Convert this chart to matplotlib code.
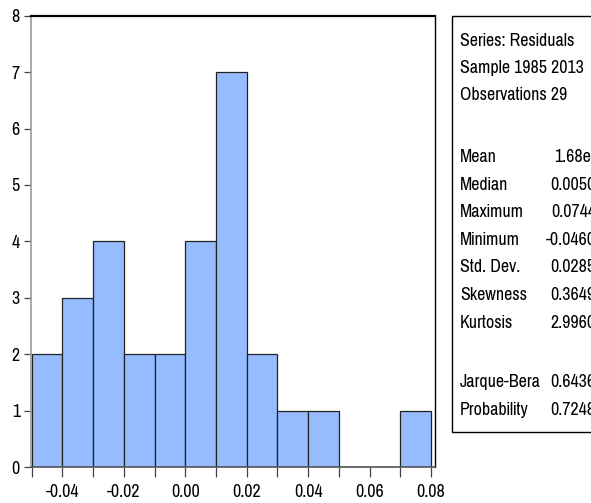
import matplotlib
matplotlib.use("Agg")
import matplotlib.pyplot as plt
from matplotlib import font_manager
from matplotlib.patches import Rectangle

# Histogram of residuals (bin edges and counts)
bin_edges = [-0.05, -0.04, -0.03, -0.02, -0.01, 0.00, 0.01, 0.02,
             0.03, 0.04, 0.05, 0.06, 0.07, 0.08]
counts = [2, 3, 4, 2, 2, 4, 7, 2, 1, 1, 0, 0, 1]
x_ticks = [-0.04, -0.02, 0.00, 0.02, 0.04, 0.06, 0.08]
x_tick_labels = ["-0.04", "-0.02", "0.00", "0.02", "0.04", "0.06", "0.08"]

# Summary statistics box
header_lines = ["Series: Residuals", "Sample 1985 2013", "Observations 29"]
stat_names = ["Mean", "Median", "Maximum", "Minimum", "Std. Dev.",
              "Skewness", "Kurtosis"]
stat_values = ["1.68e-17", "0.005038", "0.074412", "-0.046012",
               "0.028527", "0.364912", "2.996012"]
test_names = ["Jarque-Bera", "Probability"]
test_values = ["0.643614", "0.724847"]

W, H = 591, 503
installed = {f.name for f in font_manager.fontManager.ttflist}
fam = ["Pragati Narrow", "Roboto Condensed", "Liberation Sans"]
fam = [f for f in fam if f in installed] or ["DejaVu Sans"]
plt.rcParams["font.family"] = fam
FS = 14

fig = plt.figure(figsize=(W / 100, H / 100), dpi=100)


def fx(px):
    return px / W


def fy(py):
    return 1 - py / H


ax = fig.add_axes([fx(31), fy(467), fx(435) - fx(31), fy(15.7) - fy(467)])
widths = [b - a for a, b in zip(bin_edges[:-1], bin_edges[1:])]
ax.bar(bin_edges[:-1], counts, width=widths, align="edge",
       color="#96bcff", edgecolor="#222222", linewidth=0.9, zorder=2)
ax.set_xlim(-0.0502, 0.0813)
ax.set_ylim(0, 8)
ax.set_xticks(x_ticks)
ax.set_xticklabels(x_tick_labels)
ax.set_xticks(bin_edges, minor=True)
ax.set_yticks(range(0, 9))
ax.tick_params(axis="x", which="both", direction="out", length=7, width=0.9,
               color="#444444", labelsize=FS, pad=5)
ax.tick_params(axis="y", direction="out", length=5, width=0.9,
               color="#444444", labelsize=FS, pad=3)
ax.spines["top"].set_color("black")
ax.spines["top"].set_linewidth(1.6)
ax.spines["right"].set_color("black")
ax.spines["right"].set_linewidth(1.0)
ax.spines["left"].set_color("#999999")
ax.spines["left"].set_linewidth(1.2)
ax.spines["bottom"].set_color("#555555")
ax.spines["bottom"].set_linewidth(1.2)

# stats box (runs past the right edge of the image, as in the original)
fig.patches.append(Rectangle((fx(452), fy(431.7)), 1.0, fy(15.7) - fy(431.7),
                             transform=fig.transFigure, fill=False,
                             edgecolor="black", linewidth=1.0))

label_x = fx(460)
value_x = fx(612)
for i, line in enumerate(header_lines):
    fig.text(label_x, fy(41 + i * 27.2), line, fontsize=FS,
             ha="left", va="center")
for i, (name, val) in enumerate(zip(stat_names, stat_values)):
    y = fy(157 + i * 27.6)
    fig.text(label_x, y, name, fontsize=FS, ha="left", va="center")
    fig.text(value_x, y, val, fontsize=FS, ha="right", va="center")
for i, (name, val) in enumerate(zip(test_names, test_values)):
    y = fy(382 + i * 28)
    fig.text(label_x, y, name, fontsize=FS, ha="left", va="center")
    fig.text(value_x, y, val, fontsize=FS, ha="right", va="center")

fig.savefig("out.png", dpi=100)
